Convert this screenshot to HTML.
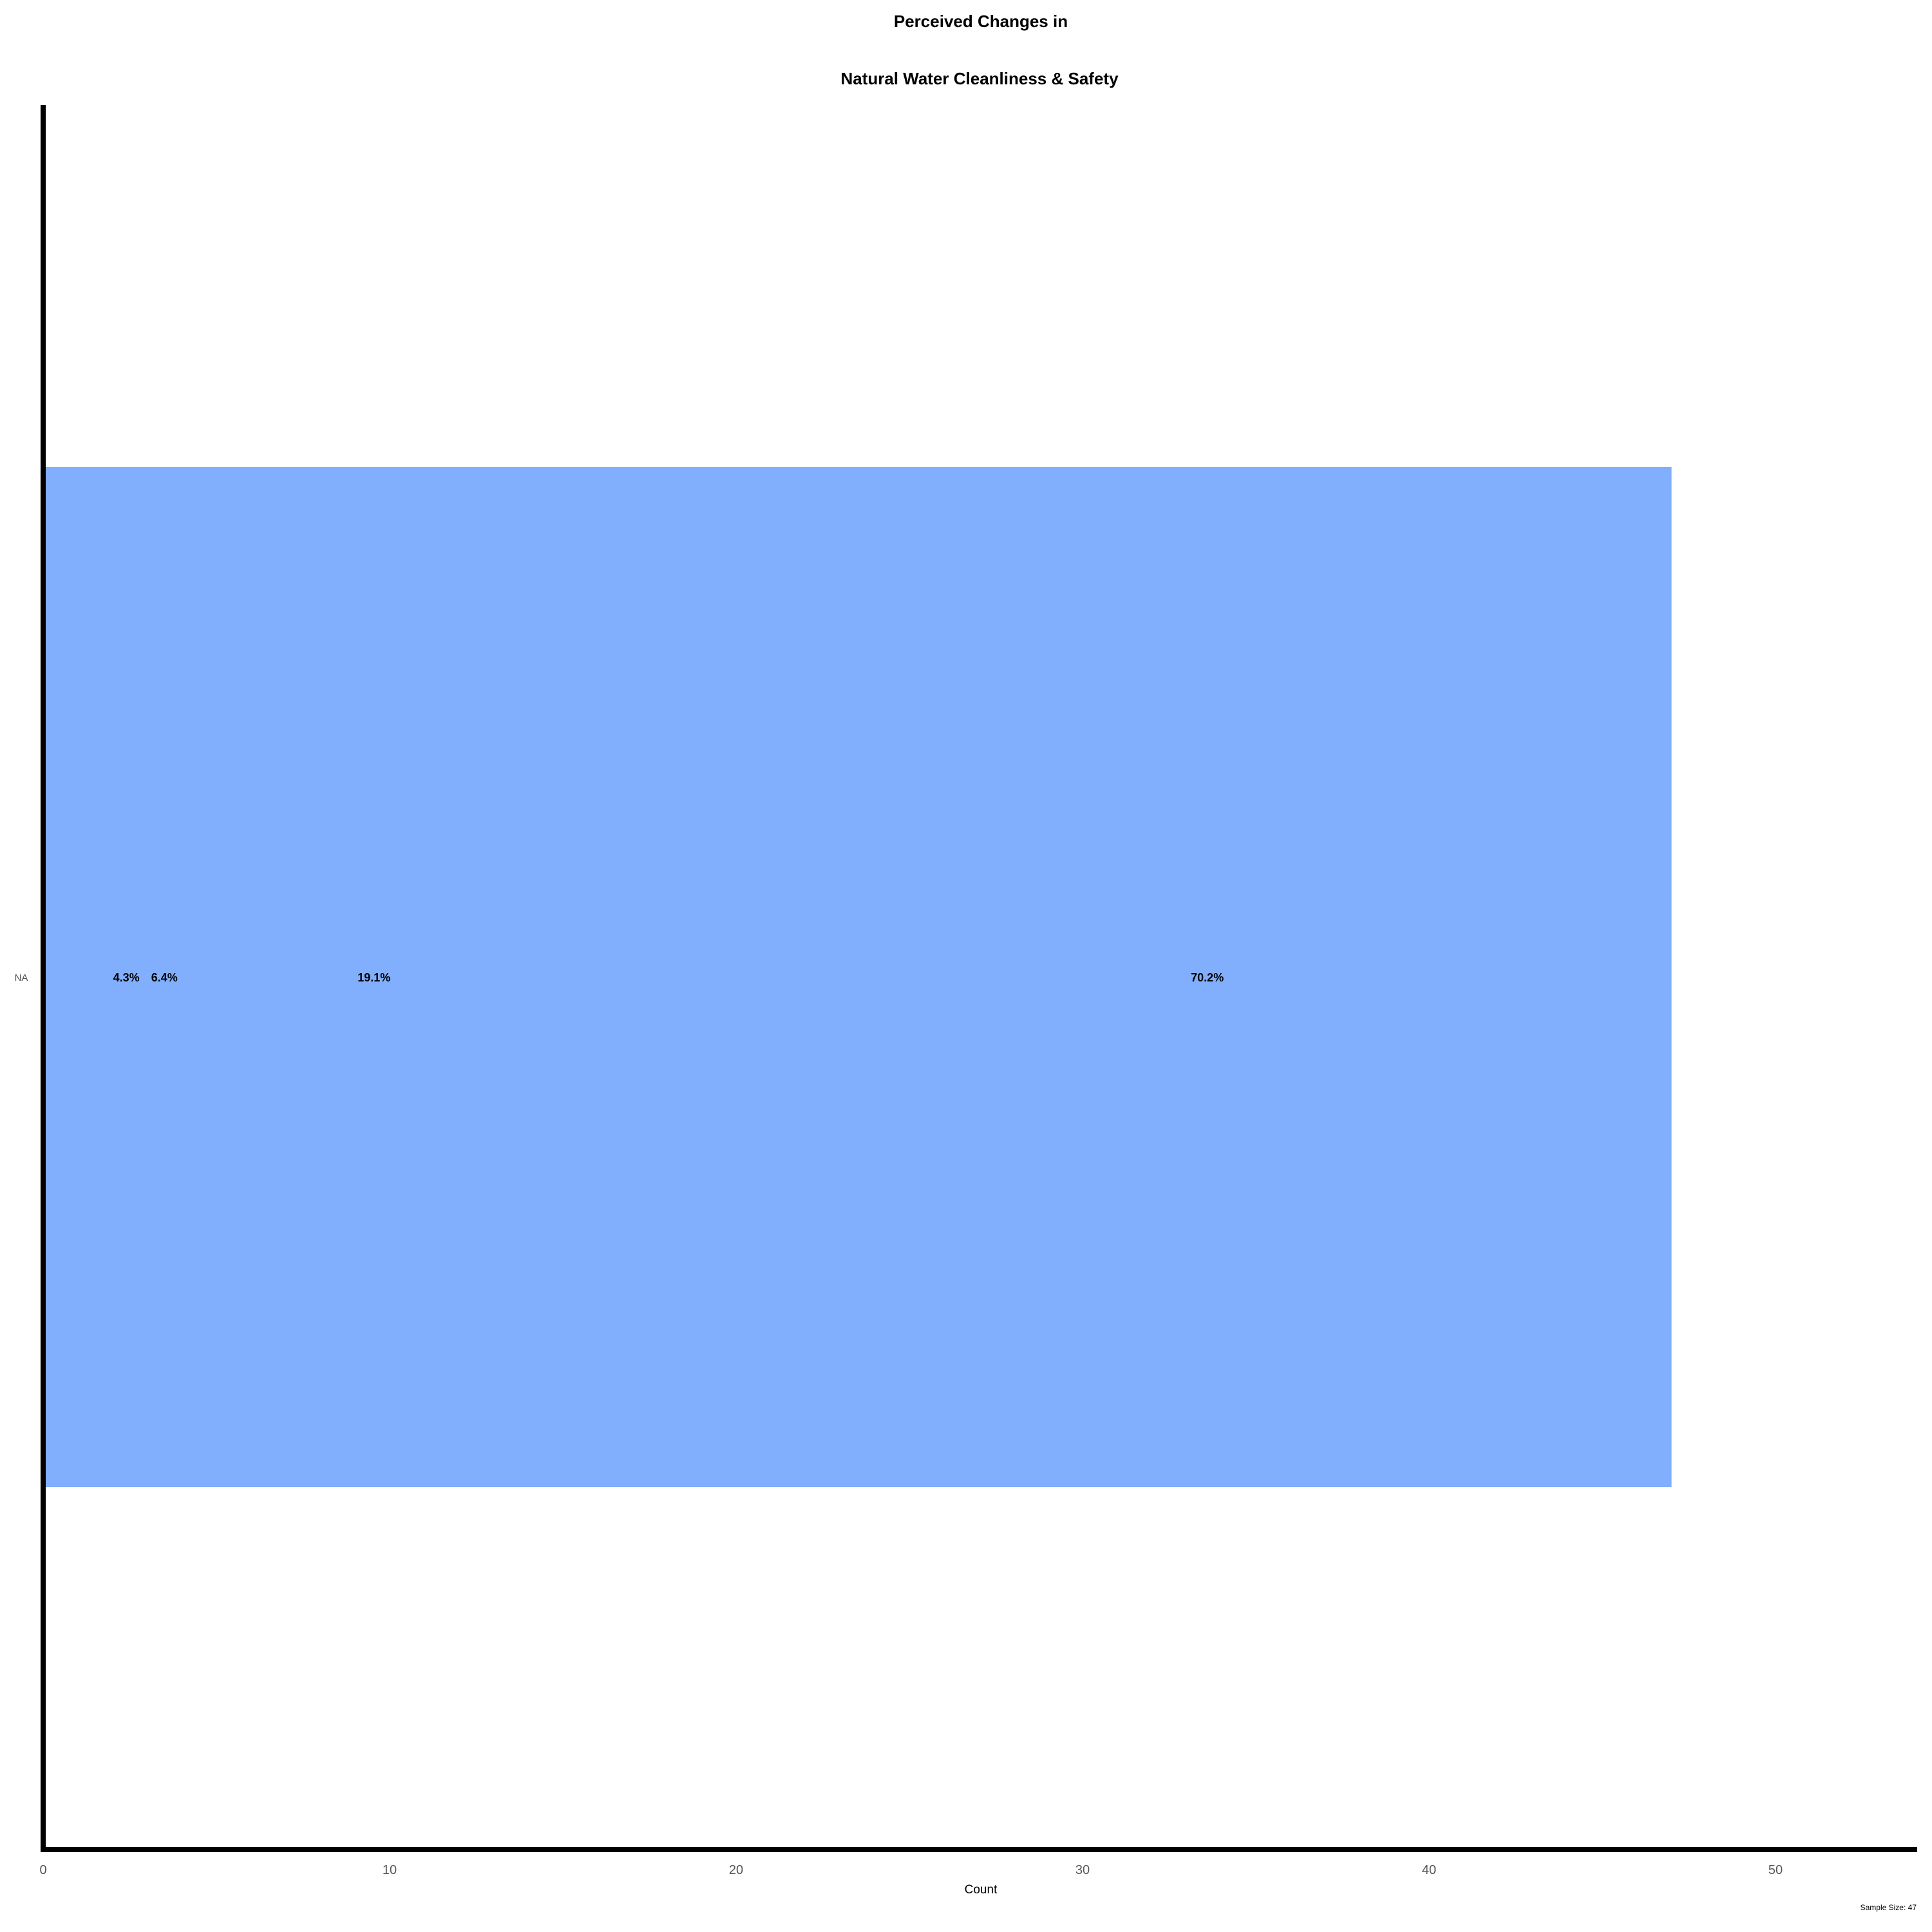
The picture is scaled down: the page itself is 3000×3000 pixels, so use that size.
<!DOCTYPE html>
<html><head><meta charset="utf-8"><style>
html,body{margin:0;padding:0;background:#fff;}
svg{display:block;}
text{font-family:"Liberation Sans",sans-serif;}
</style></head><body>
<svg id="chart" width="3000" height="3000" xmlns="http://www.w3.org/2000/svg">
<text x="1523" y="42" text-anchor="middle" font-size="26" font-weight="bold">Perceived Changes in</text>
<text x="1521" y="131" text-anchor="middle" font-size="26" font-weight="bold">Natural Water Cleanliness &amp; Safety</text>
<g id="bars"></g>
<g id="labels"></g>
<g id="xticks"></g>
<text x="33" y="1523" text-anchor="middle" font-size="15" fill="#555">NA</text>
<line x1="67" y1="163" x2="67" y2="2875" stroke="#000" stroke-width="8"/>
<line x1="63" y1="2872" x2="2977" y2="2872" stroke="#000" stroke-width="8"/>
<text x="1523" y="2940" text-anchor="middle" font-size="19">Count</text>
<text x="2976" y="2966" text-anchor="end" font-size="12">Sample Size: 47</text>
</svg>
<script>
const categories = ["NA"];
const counts = [47];
const labelTexts = ["4.3%", "6.4%", "19.1%", "70.2%"];
const labelPositions = [2.4, 3.5, 9.55, 33.6];
const tickValues = [0, 10, 20, 30, 40, 50];

const X0 = 67, PXU = 53.8;
function xScale(v){ return X0 + v * PXU; }
const barTop = 725, barBottom = 2309;
const NS = "http://www.w3.org/2000/svg";
const bars = document.getElementById('bars');
categories.forEach((c,i)=>{
  const r = document.createElementNS(NS,'rect');
  r.setAttribute('x', xScale(0));
  r.setAttribute('y', barTop);
  r.setAttribute('width', xScale(counts[i]) - xScale(0));
  r.setAttribute('height', barBottom - barTop);
  r.setAttribute('fill', '#82affd');
  
  
  bars.appendChild(r);
});
const labels = document.getElementById('labels');
labelTexts.forEach((t,i)=>{
  const e = document.createElementNS(NS,'text');
  e.setAttribute('x', xScale(labelPositions[i]));
  e.setAttribute('y', 1524);
  e.setAttribute('text-anchor','middle');
  e.setAttribute('font-size','18');
  e.setAttribute('font-weight','bold');
  e.textContent = t;
  
  
  labels.appendChild(e);
});
const xt = document.getElementById('xticks');
tickValues.forEach(v=>{
  const e = document.createElementNS(NS,'text');
  e.setAttribute('x', xScale(v));
  e.setAttribute('y', 2910);
  e.setAttribute('text-anchor','middle');
  e.setAttribute('font-size','20');
  e.setAttribute('fill','#555');
  e.textContent = v;
  
  
  xt.appendChild(e);
});
</script>
</body></html>
